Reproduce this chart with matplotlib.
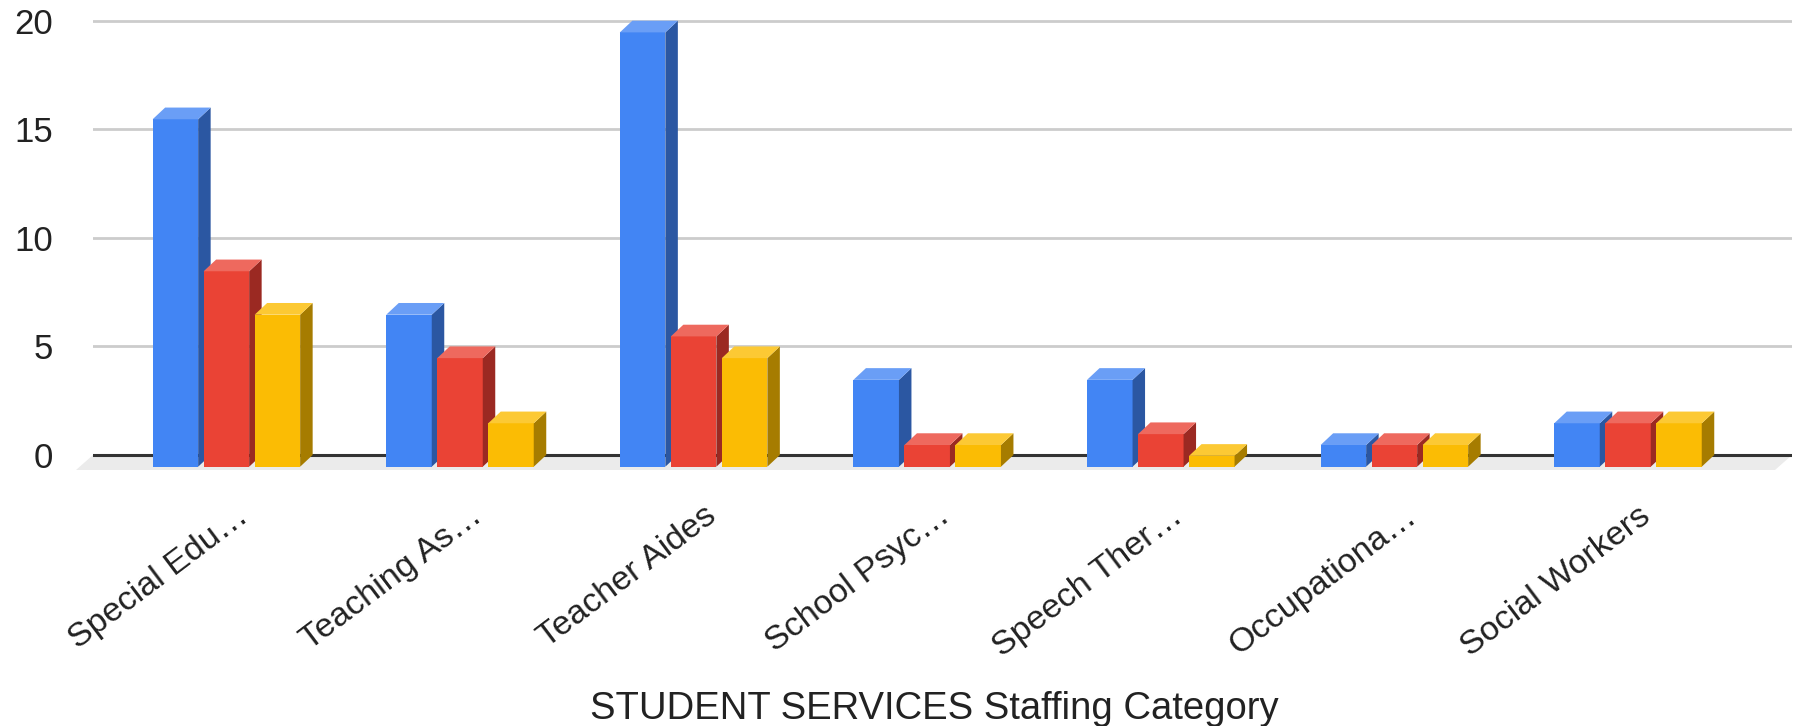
import numpy as np
import matplotlib.pyplot as plt
from matplotlib.patches import Polygon
from matplotlib.transforms import ScaledTranslation

plt.rcParams["font.family"] = ["Liberation Sans", "DejaVu Sans"]

categories = ["Special Edu…", "Teaching As…", "Teacher Aides", "School Psyc…",
              "Speech Ther…", "Occupationa…", "Social Workers"]
series_a = [16, 7, 20, 4, 4, 1, 2]
series_b = [9, 5, 6, 1, 1.5, 1, 2]
series_c = [7, 2, 5, 1, 0.5, 1, 2]
yticks = [0, 5, 10, 15, 20]

# front / side / top shades for each series
shades = [("#4285f4", "#2b57a2", "#6a9ef6"),
          ("#ea4335", "#9b2922", "#ee695e"),
          ("#fbbc04", "#a67c00", "#fcc934")]

W, H = 1795, 726
fig = plt.figure(figsize=(W / 100, H / 100), dpi=100)

# axes box in pixels: x 93..1792, y from 9.8 (top) to 476.7 (bottom)
px_unit_y = 21.715
y_top, y_bot = 20.45, -1.0
top_px = 455 - y_top * px_unit_y
bot_px = 455 - y_bot * px_unit_y
ax = fig.add_axes([93 / W, 1 - bot_px / H, (1792 - 93) / W, (bot_px - top_px) / H])

px_unit_x = 233.6
x0 = (93 - 238.9) / px_unit_x
x1 = (1792 - 238.9) / px_unit_x
ax.set_xlim(x0, x1)
ax.set_ylim(y_bot, y_top)

# depth of the fake 3D extrusion, in data units
ddx = 12.5 / px_unit_x
ddy = 11.7 / px_unit_y
bar_w = 45.5 / px_unit_x
pitch = 51.0 / px_unit_x

for s in ax.spines.values():
    s.set_visible(False)
ax.set_yticks(yticks)
ax.set_yticklabels([str(t) for t in yticks], fontsize=25, color="#222222")
ax.tick_params(axis="y", length=0, pad=28.5)
ax.yaxis.grid(True, color="#cccccc", linewidth=2)
ax.set_axisbelow(True)

# floor under the bars
fdx, fdy = 17 / px_unit_x, 15 / px_unit_y
ax.add_patch(Polygon([(x0, 0), (x1, 0), (x1 - fdx, -fdy), (x0 - fdx, -fdy)],
                     closed=True, facecolor="#ebebeb", edgecolor="none",
                     zorder=1, clip_on=False))
ax.axhline(0, color="#333333", linewidth=2.2, zorder=2)

x = np.arange(len(categories))
for i, c in enumerate(x):
    for j, vals in enumerate([series_a, series_b, series_c]):
        v = vals[i]
        front, side, top = shades[j]
        xl = c + (j - 1) * pitch - bar_w / 2 - ddx
        xr = xl + bar_w
        z = 3 + 0.1 * j
        ax.add_patch(Polygon([(xl, -ddy), (xr, -ddy), (xr, v - ddy), (xl, v - ddy)],
                             closed=True, facecolor=front, edgecolor="none",
                             zorder=z, clip_on=False))
        ax.add_patch(Polygon([(xr, -ddy), (xr + ddx, 0), (xr + ddx, v), (xr, v - ddy)],
                             closed=True, facecolor=side, edgecolor="none",
                             zorder=z, clip_on=False))
        ax.add_patch(Polygon([(xl, v - ddy), (xl + ddx, v), (xr + ddx, v), (xr, v - ddy)],
                             closed=True, facecolor=top, edgecolor="none",
                             zorder=z, clip_on=False))

ax.set_xticks(x)
ax.set_xticklabels(categories, fontsize=24.5, rotation=37, ha="right", va="top",
                   rotation_mode="anchor", color="#222222")
ax.tick_params(axis="x", length=0, pad=17)
shift = ScaledTranslation(-3 / 100, 0, fig.dpi_scale_trans)
for lab in ax.get_xticklabels():
    lab.set_transform(lab.get_transform() + shift)

ax.set_xlabel("STUDENT SERVICES Staffing Category", fontsize=27.5, color="#222222",
              va="baseline")
ax.xaxis.set_label_coords((934 - 93) / (1792 - 93), -(719 - bot_px) / (bot_px - top_px))

fig.savefig("out.png", dpi=100)
